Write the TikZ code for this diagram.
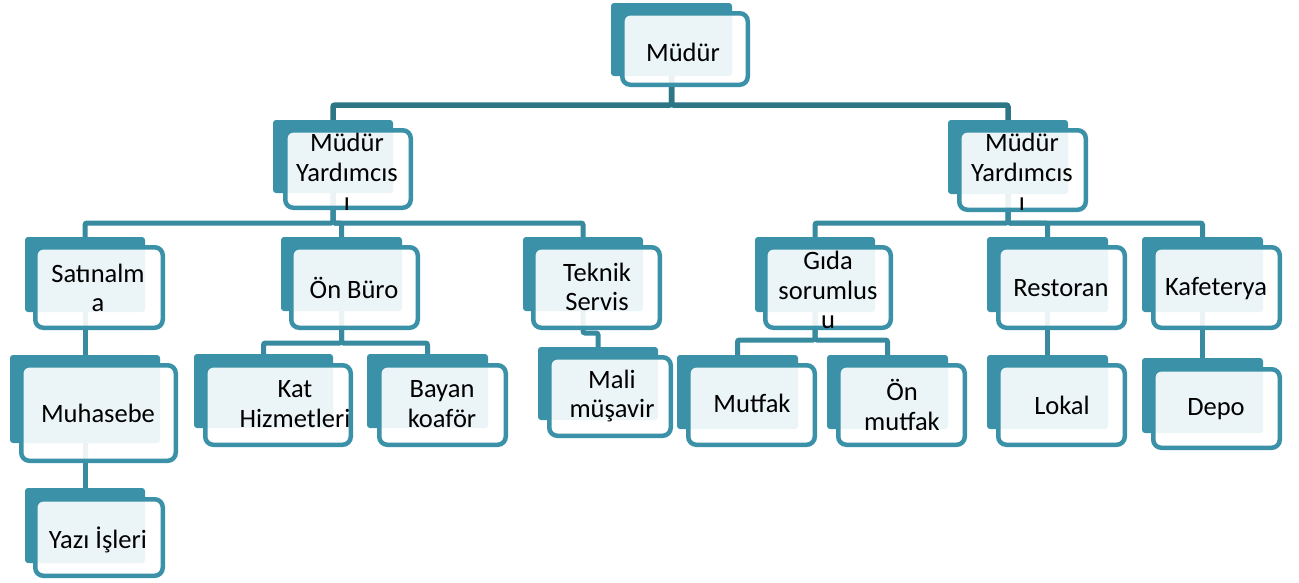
\documentclass[tikz,border=0pt]{standalone}
\usepackage{fontspec}
\setmainfont{Carlito}
\usetikzlibrary{calc}
\pgfdeclarelayer{bg}
\pgfsetlayers{bg,main}
\definecolor{tealA}{HTML}{3B91A7}
\definecolor{connD}{HTML}{2E7585}
\definecolor{connL}{HTML}{388A9E}
\tikzset{
  backbox/.style={fill=tealA, draw=none, rounded corners=3pt, inner sep=0pt, outer sep=0pt},
  frontbox/.style={draw=tealA, line width=4.5pt, fill=white, fill opacity=0.9, rounded corners=8pt, inner sep=0pt, outer sep=0pt},
  lbl/.style={align=center, text=black, inner sep=0pt, font=\fontsize{26.5}{29.5}\selectfont},
  conndark/.style={draw=connD, line width=5.5pt, rounded corners=2pt},
  connlight/.style={draw=connL, line width=5pt, rounded corners=2pt}
}
% #1 name, #2 x1, #3 y1, #4 x2, #5 y2
\newcommand\backnode[5]{\node[backbox, minimum width={(#4-#2)*1pt}, minimum height={(#5-#3)*1pt}] (#1) at ({(#2+#4)/2},{(#3+#5)/2}) {};}
\newcommand\frontnode[5]{\node[frontbox, minimum width={(#4-#2-4.5)*1pt}, minimum height={(#5-#3-4.5)*1pt}] (#1) at ({(#2+#4)/2},{(#3+#5)/2}) {};}
\begin{document}
\begin{tikzpicture}[x=1pt,y=-1pt]
\useasboundingbox (0,0) rectangle (1299,582);
% level 0
\backnode{muduB}{611}{3}{732}{76}
\frontnode{mudu}{620}{11}{750}{87}
\node[lbl] (muduT) at (683,52) {Müdür};
% level 1
\backnode{mylB}{273}{120}{393}{193}
\frontnode{myl}{283}{128}{413}{210}
\node[lbl] (mylT) at (347,172) {Müdür\\Yardımcıs\\ı};
\backnode{myrB}{948}{120}{1068}{194}
\frontnode{myr}{957}{128}{1088}{212}
\node[lbl] (myrT) at (1022,172) {Müdür\\Yardımcıs\\ı};
% level 2
\backnode{satB}{25}{237}{145}{312}
\frontnode{sat}{33}{245}{165}{330}
\node[lbl] (satT) at (98,288) {Satınalm\\a};
\backnode{onbB}{281}{237}{402}{311}
\frontnode{onb}{289}{245}{420}{330}
\node[lbl] (onbT) at (354,288) {Ön Büro};
\backnode{tekB}{523}{237}{643}{311}
\frontnode{tek}{531}{245}{662}{330}
\node[lbl] (tekT) at (597,287) {Teknik\\Servis};
\backnode{gidB}{755}{237}{875}{312}
\frontnode{gid}{763}{245}{893}{330}
\node[lbl] (gidT) at (828,290) {Gıda\\sorumlus\\u};
\backnode{resB}{987}{237}{1108}{312}
\frontnode{res}{996}{245}{1127}{330}
\node[lbl] (resT) at (1061,288) {Restoran};
\backnode{kafB}{1142}{237}{1263}{312}
\frontnode{kaf}{1151}{245}{1282}{330}
\node[lbl] (kafT) at (1216,289) {Kafeterya};
% level 3
\backnode{muhB}{10}{355}{160}{443}
\frontnode{muh}{19}{363}{178}{463}
\node[lbl] (muhT) at (98,413) {Muhasebe};
\backnode{yazB}{25}{488}{145}{563}
\frontnode{yaz}{33}{497}{165}{578}
\node[lbl] (yazT) at (98,540) {Yazı İşleri};
\backnode{katB}{194}{354}{333}{428}
\frontnode{kat}{203}{363}{353}{447}
\node[lbl] (katT) at (295,404) {Kat\\Hizmetleri};
\backnode{bayB}{367}{354}{488}{428}
\frontnode{bay}{377}{363}{508}{447}
\node[lbl] (bayT) at (442,404) {Bayan\\koaför};
\backnode{malB}{538}{347}{658}{420}
\frontnode{mal}{547}{355}{673}{438}
\node[lbl] (malT) at (612,396) {Mali\\müşavir};
\backnode{mutB}{677}{355}{798}{429}
\frontnode{mut}{686}{363}{817}{447}
\node[lbl] (mutT) at (752,403) {Mutfak};
\backnode{omuB}{827}{355}{948}{429}
\frontnode{omu}{836}{363}{967}{447}
\node[lbl] (omuT) at (902,405) {Ön\\mutfak};
\backnode{lokB}{987}{355}{1108}{429}
\frontnode{lok}{996}{363}{1127}{447}
\node[lbl] (lokT) at (1062,405) {Lokal};
\backnode{depB}{1142}{358}{1263}{433}
\frontnode{dep}{1151}{367}{1282}{450}
\node[lbl] (depT) at (1216,409) {Depo};
% connectors
\begin{pgfonlayer}{bg}
\coordinate (y0) at (0,105);
\coordinate (y1) at (0,223);
\coordinate (y2) at (0,343);
\coordinate (y3) at (0,340);
\coordinate (y4) at (0,333);
\draw[conndark] (muduB.center) |- (y0 -| mylB.center) -- (mylB.center);
\draw[conndark] (muduB.center) |- (y0 -| myrB.center) -- (myrB.center);
\draw[connlight] (mylB.center) |- (y1 -| satB.center) -- (satB.center);
\draw[connlight] (mylB.center) |- (y1 -| onbB.center) -- (onbB.center);
\draw[connlight] (mylB.center) |- (y1 -| tekB.center) -- (tekB.center);
\draw[connlight] (myrB.center) |- (y1 -| gidB.center) -- (gidB.center);
\draw[connlight] (myrB.center) |- (y1 -| resB.center) -- (resB.center);
\draw[connlight] (myrB.center) |- (y1 -| kafB.center) -- (kafB.center);
\draw[connlight] (satB.center) -- (muhB.center);
\draw[connlight] (muhB.center) -- (yazB.center);
\draw[connlight] (onbB.center) |- (y2 -| katB.center) -- (katB.center);
\draw[connlight] (onbB.center) |- (y2 -| bayB.center) -- (bayB.center);
\draw[connlight] (tekB.center) |- (y4 -| malB.center) -- (malB.center);
\draw[connlight] (gidB.center) |- (y3 -| mutB.center) -- (mutB.center);
\draw[connlight] (gidB.center) |- (y3 -| omuB.center) -- (omuB.center);
\draw[connlight] (resB.center) -- (lokB.center);
\draw[connlight] (kafB.center) -- (depB.center);
\end{pgfonlayer}
\end{tikzpicture}
\end{document}
